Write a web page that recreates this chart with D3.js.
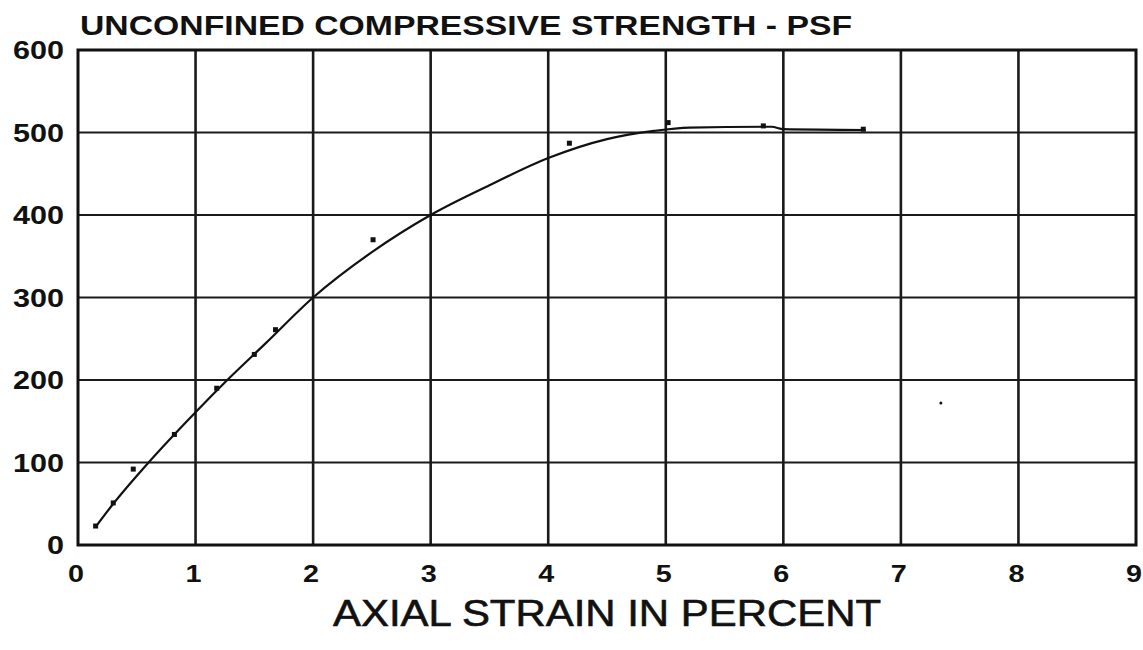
<!DOCTYPE html>
<html>
<head>
<meta charset="utf-8">
<script src="https://d3js.org/d3.v7.min.js"></script>
<style>
  body { margin: 0; background: #fff; }
  text { font-family: "Liberation Sans", Arial, sans-serif; fill: #111; }
</style>
</head>
<body>
<svg id="chart"></svg>
<script>
  // tick labels
  const xTicks = [0, 1, 2, 3, 4, 5, 6, 7, 8, 9]
  const yTicks = [0, 100, 200, 300, 400, 500, 600]

  // measured test points (strain %, psf)
  const pointStrain = [0.15, 0.3, 0.47, 0.82, 1.18, 1.5, 1.68, 2.51, 4.18, 5.02, 5.83, 6.68]
  const pointStress = [23, 51, 92, 134, 190, 231, 261, 370, 487, 512, 508, 504]

  // fitted curve
  const curveStrain = [0.15, 0.3, 0.6, 1.0, 1.27, 1.6, 2.0, 2.5, 3.0, 3.5, 4.0, 4.5, 4.9, 5.2, 5.9, 6.0, 6.7]
  const curveStress = [22, 50, 100, 161, 200, 245, 300, 355, 400, 436, 469, 492, 502, 506, 507, 504, 503]

  // stray speck on the sheet
  const strayStrain = [7.34]
  const strayStress = [172]

  const width = 1143, height = 650
  const plotL = 78, plotR = 1136, plotT = 50, plotB = 545

  const svg = d3.select('#chart')
      .attr('width', width)
      .attr('height', height)

  const x = d3.scaleLinear().domain([0, 9]).range([plotL, plotR])
  const y = d3.scaleLinear().domain([0, 600]).range([plotB, plotT])

  // grid
  const grid = svg.append('g').attr('id', 'grid')
  grid.selectAll('line.v')
      .data(xTicks.slice(1, -1))
      .enter().append('line')
      .attr('class', 'v')
      .attr('x1', d => x(d)).attr('x2', d => x(d))
      .attr('y1', plotT).attr('y2', plotB)
      .style('stroke', '#1a1a1a')
      .style('stroke-width', 2.6)

  grid.selectAll('line.h')
      .data(yTicks.slice(1, -1))
      .enter().append('line')
      .attr('class', 'h')
      .attr('x1', plotL).attr('x2', plotR)
      .attr('y1', d => y(d)).attr('y2', d => y(d))
      .style('stroke', '#1a1a1a')
      .style('stroke-width', 2.2)

  svg.append('rect')
      .attr('x', plotL).attr('y', plotT)
      .attr('width', plotR - plotL).attr('height', plotB - plotT)
      .style('fill', 'none')
      .style('stroke', '#111')
      .style('stroke-width', 3)

  // y labels
  svg.append('g').selectAll('text')
      .data(yTicks)
      .enter().append('text')
      .attr('x', plotL - 14)
      .attr('y', d => y(d) + 9)
      .attr('text-anchor', 'end')
      .attr('textLength', d => String(d).length * 17)
      .attr('lengthAdjust', 'spacingAndGlyphs')
      .style('font-size', '25px')
      .style('font-weight', 'bold')
      .text(d => d)

  // x labels
  svg.append('g').selectAll('text')
      .data(xTicks)
      .enter().append('text')
      .attr('x', d => x(d) - 2)
      .attr('y', 582)
      .attr('text-anchor', 'middle')
      .attr('textLength', 16)
      .attr('lengthAdjust', 'spacingAndGlyphs')
      .style('font-size', '24px')
      .style('font-weight', 'bold')
      .text(d => d)

  // titles
  svg.append('text')
      .attr('x', 80)
      .attr('y', 35)
      .attr('textLength', 772)
      .attr('lengthAdjust', 'spacingAndGlyphs')
      .style('font-size', '27px')
      .style('font-weight', 'bold')
      .text('UNCONFINED COMPRESSIVE STRENGTH - PSF')

  svg.append('text')
      .attr('x', 607)
      .attr('y', 626)
      .attr('text-anchor', 'middle')
      .attr('textLength', 548)
      .attr('lengthAdjust', 'spacingAndGlyphs')
      .style('font-size', '36px')
      .style('stroke', '#111')
      .style('stroke-width', 0.6)
      .text('AXIAL STRAIN IN PERCENT')

  // curve
  const line = d3.line()
      .x(d => x(d[0]))
      .y(d => y(d[1]))
      .curve(d3.curveMonotoneX)

  svg.append('path')
      .datum(d3.zip(curveStrain, curveStress))
      .attr('d', line)
      .style('fill', 'none')
      .style('stroke', '#111')
      .style('stroke-width', 2.2)

  // points
  svg.append('g').selectAll('rect')
      .data(d3.zip(pointStrain, pointStress))
      .enter().append('rect')
      .attr('x', d => x(d[0]) - 2.5)
      .attr('y', d => y(d[1]) - 2.5)
      .attr('width', 5).attr('height', 5)
      .style('fill', '#111')

  svg.append('g').selectAll('circle')
      .data(d3.zip(strayStrain, strayStress))
      .enter().append('circle')
      .attr('cx', d => x(d[0]))
      .attr('cy', d => y(d[1]))
      .attr('r', 1.5)
      .style('fill', '#111')
</script>
</body>
</html>
